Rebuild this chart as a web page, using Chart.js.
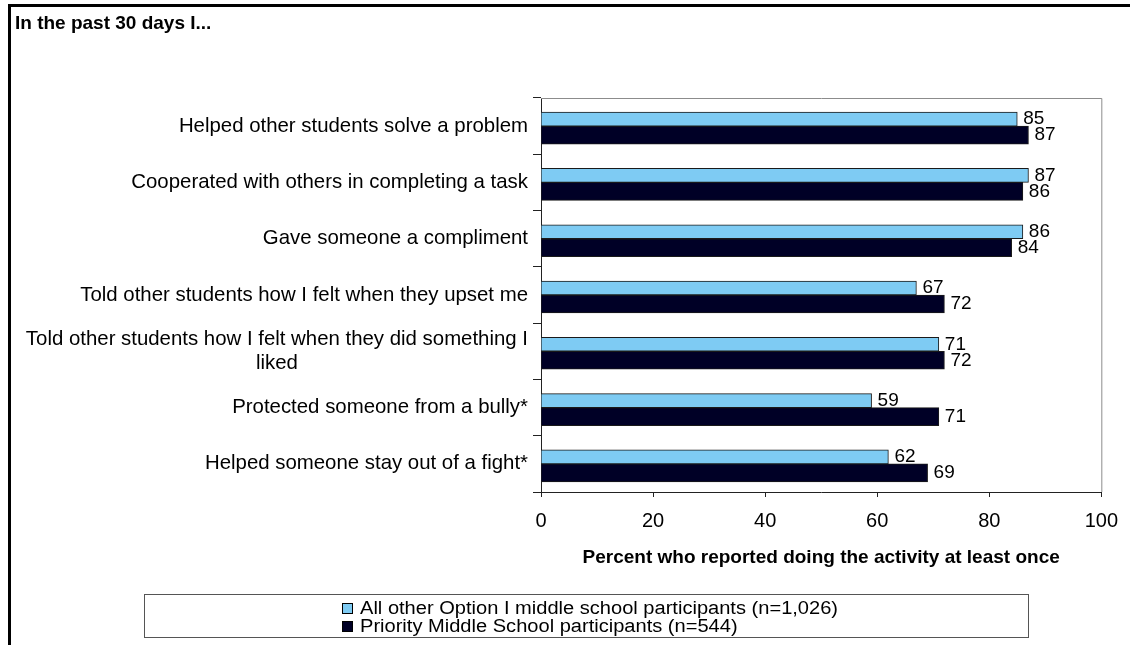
<!DOCTYPE html>
<html>
<head>
<meta charset="utf-8">
<script src="https://cdn.jsdelivr.net/npm/chart.js@4.4.1/dist/chart.umd.min.js"></script>
<style>
  html, body { margin: 0; padding: 0; background: #fff; }
  #wrap { width: 1130px; height: 645px; }
</style>
</head>
<body>
<div id="wrap"><canvas id="chart" width="1130" height="645"></canvas></div>
<script>
const categories = [
  'Helped other students solve a problem',
  'Cooperated with others in completing a task',
  'Gave someone a compliment',
  'Told other students how I felt when they upset me',
  ['Told other students how I felt when they did something I', 'liked'],
  'Protected someone from a bully*',
  'Helped someone stay out of a fight*'
];
const allOtherValues = [85, 87, 86, 67, 71, 59, 62];
const priorityValues = [87, 86, 84, 72, 72, 71, 69];
const seriesNames = [
  'All other Option I middle school participants (n=1,026)',
  'Priority Middle School participants (n=544)'
];
const xMin = 0;
const xMax = 100;
const xStep = 20;
const chartTitle = 'In the past 30 days I...';
const xAxisTitle = 'Percent who reported doing the activity at least once';

const FONT = '"Liberation Sans", Arial, sans-serif';
const LIGHT = '#7ecbf3';
const DARK = '#000026';

// everything Chart.js doesn't draw for us: frame, title, category labels, values, legend
const decorations = {
  id: 'decorations',
  afterDraw(chart) {
    const ctx = chart.ctx;
    const area = chart.chartArea;
    const yScale = chart.scales.y;
    ctx.save();

    // outer frame (only top and left edges are visible)
    ctx.fillStyle = '#000';
    ctx.fillRect(8, 4, 1122, 3);
    ctx.fillRect(8, 4, 3, 641);

    // title
    ctx.font = 'bold 19px ' + FONT;
    ctx.textAlign = 'left';
    ctx.textBaseline = 'alphabetic';
    ctx.fillText(chartTitle, 15, 29);

    // plot frame top and right
    ctx.strokeStyle = '#8c8c8c';
    ctx.lineWidth = 1;
    ctx.beginPath();
    ctx.moveTo(area.left, area.top + 0.5);
    ctx.lineTo(area.right + 0.5, area.top + 0.5);
    ctx.lineTo(area.right + 0.5, area.bottom);
    ctx.stroke();

    // category labels, wrapped lines centred inside a right-aligned block
    ctx.font = '20.4px ' + FONT;
    ctx.fillStyle = '#000';
    ctx.textBaseline = 'middle';
    ctx.textAlign = 'center';
    const lineH = 24;
    categories.forEach((label, i) => {
      const lines = Array.isArray(label) ? label : [label];
      const w = Math.max(...lines.map(l => ctx.measureText(l).width));
      const cx = area.left - 13 - w / 2;
      const cy = yScale.getPixelForValue(i);
      lines.forEach((line, j) => {
        ctx.fillText(line, cx, cy + (j - (lines.length - 1) / 2) * lineH);
      });
    });

    // value labels
    ctx.font = '19px ' + FONT;
    ctx.textAlign = 'left';
    chart.data.datasets.forEach((ds, di) => {
      const meta = chart.getDatasetMeta(di);
      meta.data.forEach((bar, i) => {
        ctx.fillText(String(ds.data[i]), bar.x + 6, bar.y);
      });
    });

    // legend box
    ctx.strokeStyle = '#555';
    ctx.strokeRect(144.5, 594.5, 884, 43);
    ctx.font = '18px ' + FONT;
    chart.data.datasets.forEach((ds, di) => {
      const y = 609 + di * 18;
      ctx.fillStyle = ds.backgroundColor;
      ctx.fillRect(342, y - 6, 11, 11);
      ctx.strokeStyle = '#000';
      ctx.strokeRect(342.5, y - 5.5, 10, 10);
      ctx.fillStyle = '#000';
      ctx.save();
      ctx.translate(360, y);
      ctx.scale(1.115, 1);
      ctx.fillText(ds.label, 0, 0);
      ctx.restore();
    });

    ctx.restore();
  }
};

Chart.defaults.font.family = FONT;

const chart = new Chart(document.getElementById('chart').getContext('2d'), {
  type: 'bar',
  data: {
    labels: categories,
    datasets: [{
      label: seriesNames[0],
      data: allOtherValues,
      backgroundColor: LIGHT,
      borderColor: '#1a1a1a',
      borderWidth: 1,
      barThickness: 14
    }, {
      label: seriesNames[1],
      data: priorityValues,
      backgroundColor: DARK,
      borderColor: '#1a1a1a',
      borderWidth: 1,
      barThickness: 18
    }]
  },
  options: {
    indexAxis: 'y',
    responsive: false,
    animation: false,
    events: [],
    layout: {
      padding: { top: 98, right: 28, left: 0, bottom: 0 }
    },
    scales: {
      y: {
        grid: {
          drawOnChartArea: false,
          drawTicks: true,
          tickLength: 8,
          offset: true,
          color: '#222'
        },
        border: { color: '#222', width: 1 },
        ticks: { display: false },
        afterFit(scale) { scale.width = 541; }
      },
      x: {
        min: xMin,
        max: xMax,
        ticks: {
          stepSize: xStep,
          color: '#000',
          padding: 12,
          maxRotation: 0,
          font: { size: 20 }
        },
        grid: {
          drawOnChartArea: false,
          tickLength: 5,
          color: '#222'
        },
        border: { color: '#222', width: 1 },
        title: {
          display: true,
          text: xAxisTitle,
          color: '#000',
          font: { size: 19, weight: 'bold' },
          padding: { top: 0, bottom: 76 }
        },
        afterFit(scale) { scale.height = 153; }
      }
    },
    plugins: {
      legend: { display: false },
      tooltip: { enabled: false }
    }
  },
  plugins: [decorations]
});
</script>
</body>
</html>
